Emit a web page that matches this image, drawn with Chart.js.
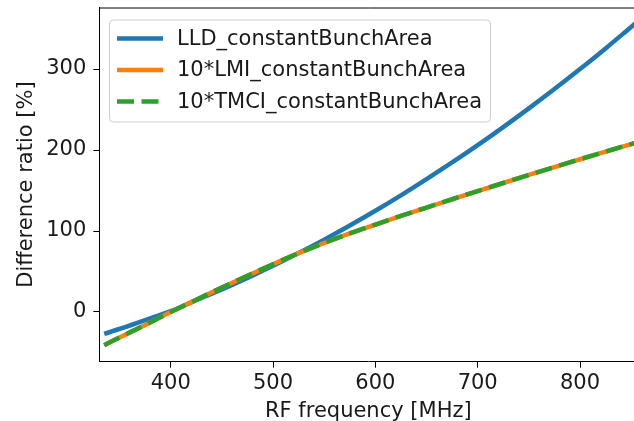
<!DOCTYPE html>
<html>
<head>
<meta charset="utf-8">
<script src="https://cdn.jsdelivr.net/npm/chart.js@4.4.1/dist/chart.umd.min.js"></script>
<style>
    html, body { margin: 0; padding: 0; background: #fff; overflow: hidden; }
    #wrap { width: 645px; height: 421px; position: relative; }
</style>
</head>
<body>
<div id="wrap"><canvas id="myChart"></canvas></div>
<script>
// RF frequency [MHz] and difference ratios [%]
var freqs = [335, 350, 375, 400, 425, 450, 475, 500, 525, 550, 575, 600, 625, 650, 675, 700, 725, 750, 775, 800, 825, 850, 860];
var lld   = [-27, -21, -10, 1, 14.5, 27.8, 42, 57, 72.8, 89.3, 106.8, 125, 144, 164, 184.6, 206, 228.3, 251.4, 275.3, 300, 325.5, 352, 362.6];
var lmi   = [-41, -31.5, -16, 0, 15.2, 30.2, 44.8, 59, 72.6, 85.2, 97, 108, 118.6, 129, 139.2, 149.3, 159.3, 169.2, 179, 188.6, 198, 207.3, 211];
var tmci  = [-41, -31.5, -16, 0, 15.2, 30.2, 44.8, 59, 72.6, 85.2, 97, 108, 118.6, 129, 139.2, 149.3, 159.3, 169.2, 179, 188.6, 198, 207.3, 211];
var seriesNames = ['LLD_constantBunchArea', '10*LMI_constantBunchArea', '10*TMCI_constantBunchArea'];
var xTicks = [400, 500, 600, 700, 800];
var yTicks = [0, 100, 200, 300];

var FONT = 'DejaVu Sans';
var FSIZE = 21;
var TEXT = '#1a1a1a';

function pts(ys) {
    return freqs.map(function (f, i) { return { x: f, y: ys[i] }; });
}

// scales shouldn't reserve extra room for half tick labels
function noPad(s) {
    s.paddingTop = 0;
    s.paddingBottom = 0;
    s.paddingLeft = 0;
    s.paddingRight = 0;
}

// frame on top of the plot + boxed legend in upper left
var framePlugin = {
    id: 'frame',
    afterDatasetsDraw: function (chart) {
        var ctx = chart.ctx, a = chart.chartArea;
        ctx.save();
        ctx.strokeStyle = '#000';
        ctx.lineWidth = 1;
        ctx.beginPath();
        ctx.moveTo(a.left, a.top + 0.5);
        ctx.lineTo(a.right, a.top + 0.5);
        ctx.stroke();

        // legend box
        var bx = 109.5, by = 20, bw = 381, bh = 102, r = 4;
        ctx.fillStyle = 'rgba(255,255,255,0.8)';
        ctx.strokeStyle = '#cccccc';
        ctx.beginPath();
        ctx.roundRect(bx, by, bw, bh, r);
        ctx.fill();
        ctx.stroke();

        ctx.font = FSIZE + 'px "' + FONT + '"';
        ctx.textBaseline = 'middle';
        ctx.fillStyle = TEXT;
        chart.data.datasets.forEach(function (ds, i) {
            var y = 38.5 + i * 31.5;
            ctx.save();
            ctx.strokeStyle = ds.borderColor;
            ctx.lineWidth = ds.borderWidth;
            ctx.setLineDash(ds.borderDash || []);
            ctx.beginPath();
            ctx.moveTo(117, y);
            ctx.lineTo(163, y);
            ctx.stroke();
            ctx.restore();
            ctx.fillText(ds.label, 177, y + 1);
        });
        ctx.restore();
    }
};

var ctx = document.getElementById('myChart').getContext('2d');
var myChart = new Chart(ctx, {
    type: 'line',
    data: {
        datasets: [{
            label: seriesNames[0],
            data: pts(lld),
            borderColor: '#1f77b4',
            borderWidth: 4.5,
            order: 2
        }, {
            label: seriesNames[1],
            data: pts(lmi),
            borderColor: '#ff7f0e',
            borderWidth: 4.5,
            order: 1
        }, {
            label: seriesNames[2],
            data: pts(tmci),
            borderColor: '#2ca02c',
            borderWidth: 4.5,
            borderDash: [17, 7.5],
            order: 0
        }]
    },
    options: {
        responsive: true,
        maintainAspectRatio: false,
        animation: false,
        devicePixelRatio: 1,
        elements: {
            point: { radius: 0 },
            line: { tension: 0, cubicInterpolationMode: 'monotone', borderCapStyle: 'butt' }
        },
        layout: { padding: { left: 0, top: 7.5, right: 7.7, bottom: 0 } },
        plugins: {
            legend: { display: false },
            tooltip: { enabled: false }
        },
        scales: {
            x: {
                type: 'linear',
                min: 330.2,
                max: 856,
                afterBuildTicks: function (s) { s.ticks = xTicks.map(function (v) { return { value: v }; }); },
                afterFit: function (s) { s.height = 59.3; noPad(s); },
                border: { color: '#000', width: 1 },
                grid: { drawOnChartArea: false, drawTicks: true, tickLength: 6, color: '#000' },
                ticks: { font: { family: FONT, size: FSIZE }, color: TEXT, padding: 3, maxRotation: 0 },
                title: {
                    display: true, text: 'RF frequency [MHz]',
                    font: { family: FONT, size: FSIZE }, color: TEXT,
                    padding: { top: 0, bottom: -3 }
                }
            },
            y: {
                min: -61.4,
                max: 376,
                afterBuildTicks: function (s) { s.ticks = yTicks.map(function (v) { return { value: v }; }); },
                afterFit: function (s) { s.width = 99.3; noPad(s); },
                border: { color: '#000', width: 1 },
                grid: { drawOnChartArea: false, drawTicks: true, tickLength: 6, color: '#000' },
                ticks: { font: { family: FONT, size: FSIZE }, color: TEXT, padding: 7 },
                title: {
                    display: true, text: 'Difference ratio [%]',
                    font: { family: FONT, size: FSIZE }, color: TEXT,
                    padding: { top: 14, bottom: 0 }
                }
            }
        }
    },
    plugins: [framePlugin]
});
</script>
</body>
</html>
